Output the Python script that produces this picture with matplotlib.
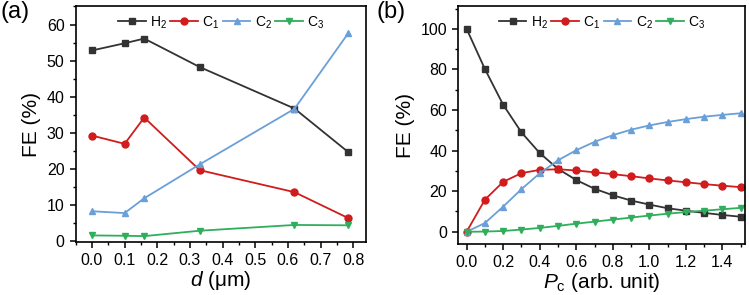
import numpy as np
import matplotlib
matplotlib.use("Agg")
import matplotlib.pyplot as plt
from matplotlib.ticker import MultipleLocator

plt.rcParams["font.family"] = ["Liberation Sans", "DejaVu Sans"]
plt.rcParams["mathtext.fontset"] = "custom"
plt.rcParams["mathtext.rm"] = "Liberation Sans"
plt.rcParams["mathtext.it"] = "Liberation Sans:italic"

# Panel (a): FE vs thickness d
d_um = [0.0, 0.1, 0.16, 0.33, 0.62, 0.785]
a_h2 = [52.8, 54.8, 56.1, 48.2, 36.7, 24.6]
a_c1 = [29.2, 26.9, 34.2, 19.6, 13.5, 6.3]
a_c2 = [8.2, 7.7, 11.8, 21.2, 36.6, 57.6]
a_c3 = [1.5, 1.4, 1.3, 2.8, 4.4, 4.3]

# Panel (b): FE vs Pc
pc = [0.0, 0.1, 0.2, 0.3, 0.4, 0.5, 0.6, 0.7, 0.8, 0.9, 1.0, 1.1, 1.2, 1.3, 1.4, 1.5]
b_h2 = [100, 80.2, 62.6, 49.0, 38.8, 31.0, 25.5, 21.2, 18.0, 15.4, 13.4, 11.6, 10.4, 9.3, 8.3, 7.4]
b_c1 = [0, 15.8, 24.6, 28.9, 30.5, 30.8, 30.2, 29.3, 28.4, 27.4, 26.3, 25.3, 24.4, 23.5, 22.7, 22.0]
b_c2 = [0, 4.3, 12.4, 21.0, 28.8, 35.2, 40.2, 44.3, 47.6, 50.3, 52.4, 54.1, 55.5, 56.7, 57.6, 58.4]
b_c3 = [0, 0.1, 0.4, 1.1, 1.9, 2.9, 4.0, 5.0, 6.0, 7.0, 8.0, 8.9, 9.7, 10.4, 11.1, 11.8]

labels = [r"H$_2$", r"C$_1$", r"C$_2$", r"C$_3$"]
colors = ["#333333", "#d01c1c", "#6a9fd8", "#2fae5c"]
markers = ["s", "o", "^", "v"]

fig = plt.figure(figsize=(7.49, 2.95), dpi=100)
ax_a = fig.add_axes([0.101, 0.180, 0.388, 0.798])
ax_b = fig.add_axes([0.612, 0.173, 0.383, 0.805])


def draw(ax, x, series):
    for y, lab, c, m in zip(series, labels, colors, markers):
        ax.plot(x, y, color=c, marker=m, markersize=5, lw=1.3, label=lab)
    ax.legend(loc="upper center", ncol=4, frameon=False, fontsize=10,
              handlelength=2.0, handletextpad=0.3, columnspacing=0.25,
              borderaxespad=0.15, bbox_to_anchor=(0.5, 1.0))
    for s in ax.spines.values():
        s.set_linewidth(1.2)
    ax.tick_params(which="major", direction="out", length=4.5, width=1.1,
                   labelsize=11.5)
    ax.tick_params(which="minor", direction="out", length=2.5, width=1.0)
    ax.set_ylabel("FE (%)", fontsize=15, labelpad=4)


draw(ax_a, d_um, [a_h2, a_c1, a_c2, a_c3])
ax_a.set_xlim(-0.05, 0.84)
ax_a.set_ylim(-0.3, 65)
ax_a.xaxis.set_major_locator(MultipleLocator(0.1))
ax_a.xaxis.set_minor_locator(MultipleLocator(0.05))
ax_a.yaxis.set_major_locator(MultipleLocator(10))
ax_a.yaxis.set_minor_locator(MultipleLocator(5))
ax_a.set_xlabel(r"$d$ (μm)", fontsize=15, labelpad=1)

draw(ax_b, pc, [b_h2, b_c1, b_c2, b_c3])
ax_b.set_xlim(-0.045, 1.525)
ax_b.set_ylim(-6, 111)
ax_b.xaxis.set_major_locator(MultipleLocator(0.2))
ax_b.xaxis.set_minor_locator(MultipleLocator(0.1))
ax_b.yaxis.set_major_locator(MultipleLocator(20))
ax_b.yaxis.set_minor_locator(MultipleLocator(10))
ax_b.set_xlabel(r"$P_\mathrm{c}$ (arb. unit)", fontsize=15, labelpad=1)

fig.text(0.0, 0.995, "(a)", fontsize=17, va="top", ha="left")
fig.text(0.503, 0.995, "(b)", fontsize=17, va="top", ha="left")

fig.savefig("out.png", dpi=100)
